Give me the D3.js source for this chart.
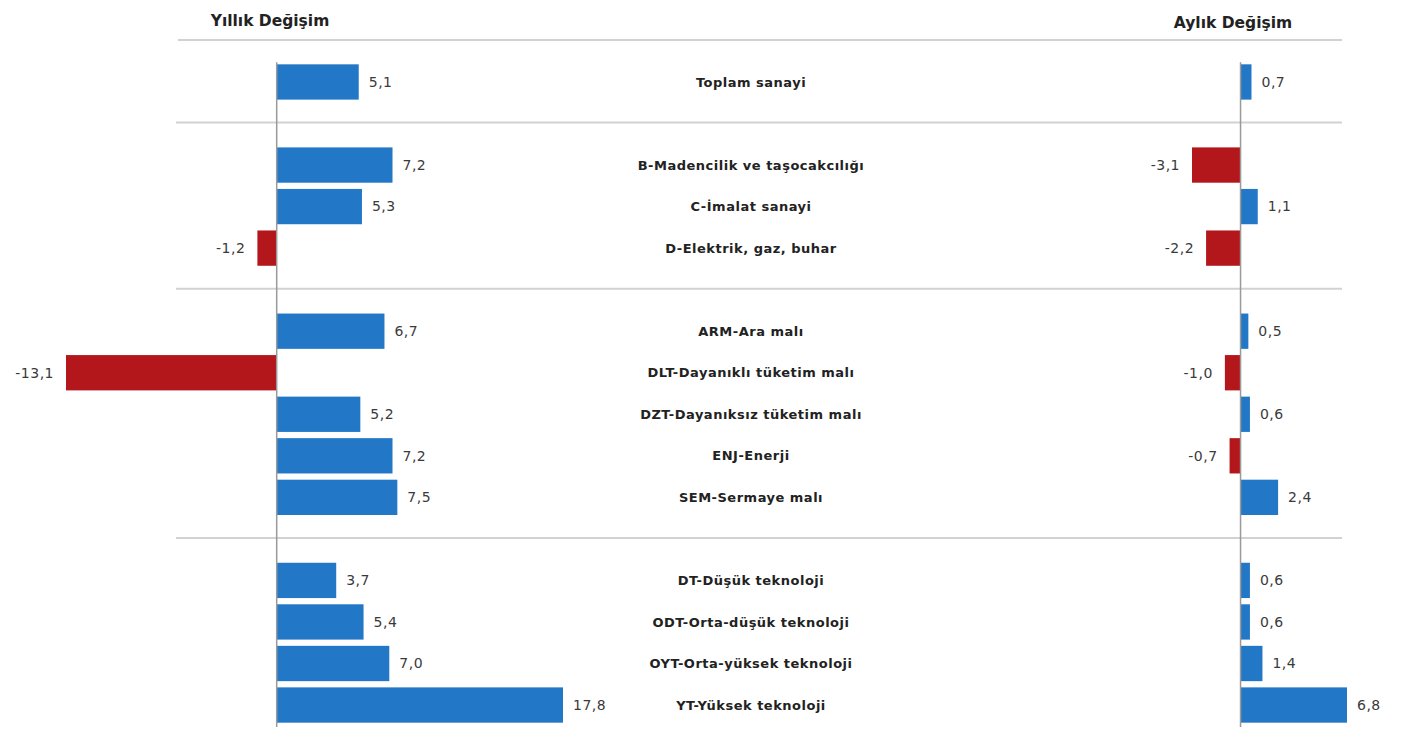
<!DOCTYPE html>
<html>
<head>
<meta charset="utf-8">
<script src="https://cdn.jsdelivr.net/npm/d3@7"></script>
<style>
  body { margin: 0; background: #fff; }
  text { font-family: "DejaVu Sans", Verdana, sans-serif; }
</style>
</head>
<body>
<div id="chart"></div>
<script>
// rows of the chart, "" marks an empty gap slot between groups
const categories = [
    "Toplam sanayi", "",
    "B-Madencilik ve taşocakcılığı", "C-İmalat sanayi", "D-Elektrik, gaz, buhar", "",
    "ARM-Ara malı", "DLT-Dayanıklı tüketim malı", "DZT-Dayanıksız tüketim malı", "ENJ-Enerji", "SEM-Sermaye malı", "",
    "DT-Düşük teknoloji", "ODT-Orta-düşük teknoloji", "OYT-Orta-yüksek teknoloji", "YT-Yüksek teknoloji"
];
const yearly = [5.1, null, 7.2, 5.3, -1.2, null, 6.7, -13.1, 5.2, 7.2, 7.5, null, 3.7, 5.4, 7.0, 17.8];
const monthly = [0.7, null, -3.1, 1.1, -2.2, null, 0.5, -1.0, 0.6, -0.7, 2.4, null, 0.6, 0.6, 1.4, 6.8];
const headers = ["Yıllık Değişim", "Aylık Değişim"];

const width = 1401, height = 740;
const blue = "#2278c6", red = "#b3161b";
const fmt = v => d3.format(".1f")(v).replace(".", ",").replace("\u2212", "-");

const svg = d3.select("#chart").append("svg")
    .attr("width", width)
    .attr("height", height);

const y = d3.scaleBand()
    .domain(d3.range(categories.length))
    .range([61, 726])
    .paddingInner(0.15)
    .paddingOuter(0.08);

const xLeft = d3.scaleLinear().domain([-13.1, 17.8]).range([66, 563]);
const xRight = d3.scaleLinear().domain([-3.1, 6.8]).range([1192, 1347]);

// separator lines: top one and between groups
const sepRows = categories.map((c, i) => c === "" ? i : null).filter(i => i !== null);
svg.append("line")
    .attr("x1", 178).attr("x2", 1342)
    .attr("y1", 40).attr("y2", 40)
    .attr("stroke", "#d2d2d2").attr("stroke-width", 2);
svg.selectAll(".sep")
    .data(sepRows)
    .join("line")
    .attr("class", "sep")
    .attr("x1", 176).attr("x2", 1342)
    .attr("y1", i => y(i) + y.bandwidth() / 2 - 1)
    .attr("y2", i => y(i) + y.bandwidth() / 2 - 1)
    .attr("stroke", "#d2d2d2").attr("stroke-width", 2);

// headers
svg.append("text")
    .attr("x", 270).attr("y", 26)
    .attr("text-anchor", "middle")
    .style("font-size", "15.5px").style("font-weight", "bold")
    .attr("fill", "#222")
    .text(headers[0]);
svg.append("text")
    .attr("x", 1233).attr("y", 28)
    .attr("text-anchor", "middle")
    .style("font-size", "15.5px").style("font-weight", "bold")
    .attr("fill", "#222")
    .text(headers[1]);

function drawPanel(values, x) {
    const rows = values.map((v, i) => ({ v, i })).filter(d => d.v !== null);
    const g = svg.append("g");

    g.selectAll("rect")
        .data(rows)
        .join("rect")
        .attr("x", d => x(Math.min(0, d.v)))
        .attr("width", d => Math.abs(x(d.v) - x(0)))
        .attr("y", d => y(d.i))
        .attr("height", y.bandwidth())
        .attr("fill", d => d.v < 0 ? red : blue);

    g.append("line")
        .attr("x1", x(0)).attr("x2", x(0))
        .attr("y1", y(0) - 2).attr("y2", 727)
        .attr("stroke", "#9a9a9a").attr("stroke-width", 1.5);

    g.selectAll(".val")
        .data(rows)
        .join("text")
        .attr("class", "val")
        .attr("x", d => d.v < 0 ? x(d.v) - 12 : x(d.v) + 10)
        .attr("y", d => y(d.i) + y.bandwidth() / 2)
        .attr("dy", "0.35em")
        .attr("text-anchor", d => d.v < 0 ? "end" : "start")
        .style("font-size", "14px")
        .style("letter-spacing", "0.5px")
        .attr("fill", "#3a3a3a")
        .text(d => fmt(d.v));
}

drawPanel(yearly, xLeft);
drawPanel(monthly, xRight);

// category labels in the middle
svg.selectAll(".cat")
    .data(categories.map((c, i) => ({ c, i })).filter(d => d.c !== ""))
    .join("text")
    .attr("class", "cat")
    .attr("x", 751)
    .attr("y", d => y(d.i) + y.bandwidth() / 2)
    .attr("dy", "0.35em")
    .attr("text-anchor", "middle")
    .style("font-size", "13px").style("font-weight", "bold")
    .style("letter-spacing", "0.5px")
    .attr("fill", "#222")
    .text(d => d.c);
</script>
</body>
</html>
